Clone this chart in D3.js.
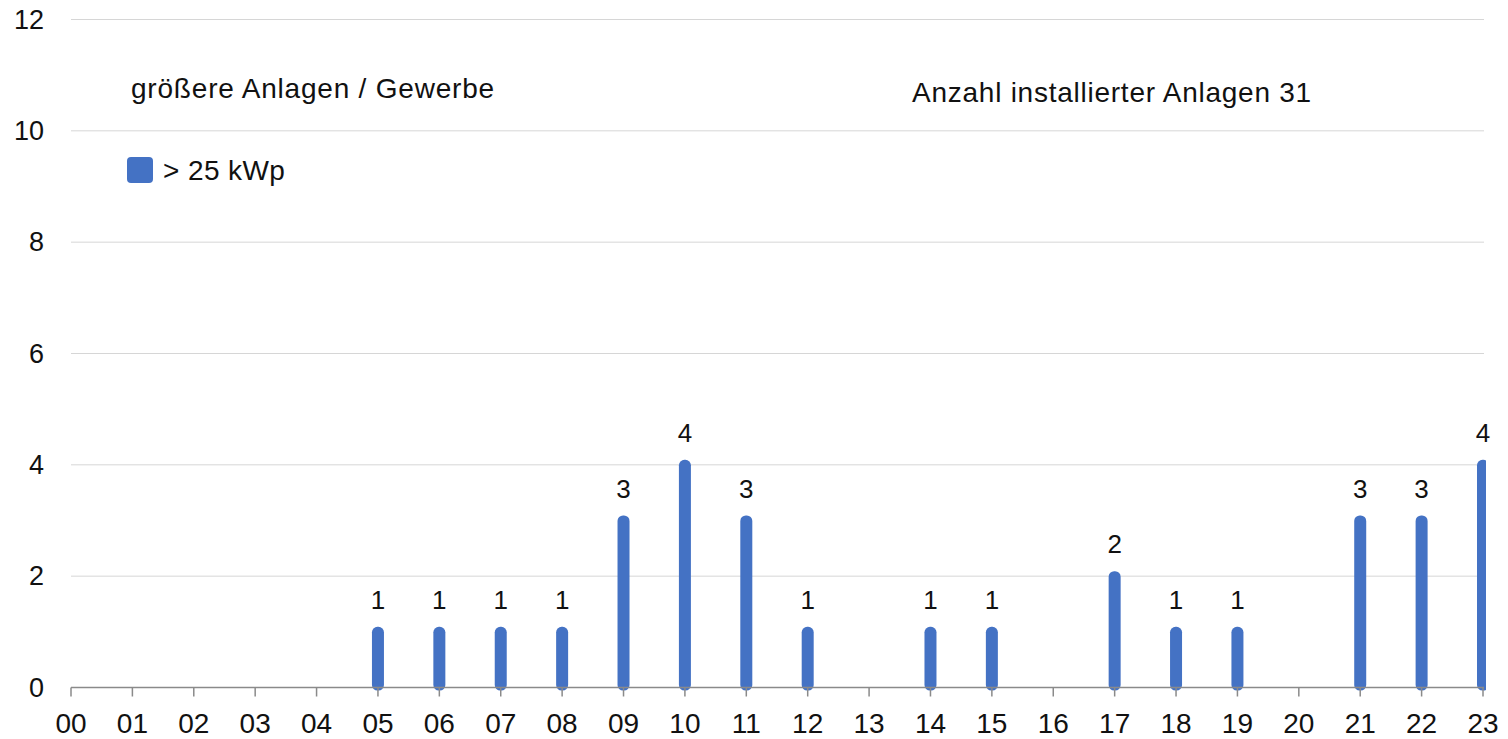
<!DOCTYPE html>
<html>
<head>
<meta charset="utf-8">
<script src="https://cdn.jsdelivr.net/npm/d3@7"></script>
<style>
  html, body { margin: 0; padding: 0; background: #fff; }
  svg { display: block; font-family: "Liberation Sans", Arial, Helvetica, sans-serif; }
</style>
</head>
<body>
<svg id="chart" width="1508" height="739"></svg>
<script>
// Installations per year (> 25 kWp)
const years = ["00","01","02","03","04","05","06","07","08","09","10","11",
               "12","13","14","15","16","17","18","19","20","21","22","23"];
const counts = [0,0,0,0,0,1,1,1,1,3,4,3,1,0,1,1,0,2,1,1,0,3,3,4];
const yTicks = [0, 2, 4, 6, 8, 10, 12];
const seriesName = "> 25 kWp";
const chartTitle = "größere Anlagen / Gewerbe";
const totalLabel = "Anzahl installierter Anlagen " + d3.sum(counts);

const W = 1508, H = 739;
const plotLeft = 71, plotRight = 1483, plotTop = 19.5, plotBottom = 687.5;
const barColor = "#4472C4";
const barW = 12;

const svg = d3.select("#chart");

const x = d3.scalePoint().domain(years).range([plotLeft, plotRight]).padding(0);
const y = d3.scaleLinear().domain([0, 12]).range([plotBottom, plotTop]);

// horizontal grid lines
svg.append("g")
  .selectAll("line")
  .data(yTicks.filter(t => t > 0))
  .join("line")
  .attr("x1", plotLeft).attr("x2", plotRight + 1)
  .attr("y1", d => y(d)).attr("y2", d => y(d))
  .attr("stroke", "#d6d6d6").attr("stroke-width", 1);

// y axis labels
svg.append("g")
  .selectAll("text")
  .data(yTicks)
  .join("text")
  .attr("x", 44).attr("y", d => y(d))
  .attr("text-anchor", "end").attr("dominant-baseline", "central")
  .attr("font-size", 27).attr("fill", "#111")
  .text(d => d);

// bars, clipped just past the last category
svg.append("defs").append("clipPath").attr("id", "plotClip")
  .append("rect").attr("x", 0).attr("y", 0).attr("width", plotRight + 3).attr("height", H);

const barData = years.map((k, i) => ({ k, v: counts[i] })).filter(d => d.v > 0);

const bars = svg.append("g").attr("clip-path", "url(#plotClip)");
bars.selectAll("rect")
  .data(barData)
  .join("rect")
  .attr("x", d => x(d.k) - barW / 2)
  .attr("width", barW)
  .attr("y", d => y(d.v) - 5)
  .attr("height", d => y(0) - y(d.v) + 8)
  .attr("rx", 5.5)
  .attr("fill", barColor);

// value labels
svg.append("g")
  .selectAll("text")
  .data(barData)
  .join("text")
  .attr("x", d => x(d.k)).attr("y", d => y(d.v) - 23)
  .attr("text-anchor", "middle")
  .attr("font-size", 26).attr("fill", "#111")
  .text(d => d.v);

// x axis
const xAxis = svg.append("g");
xAxis.append("line")
  .attr("x1", plotLeft).attr("x2", plotRight + 1)
  .attr("y1", y(0)).attr("y2", y(0))
  .attr("stroke", "#8a8a8a").attr("stroke-width", 1.5);
xAxis.selectAll("line.tick")
  .data(years)
  .join("line").attr("class", "tick")
  .attr("x1", d => x(d)).attr("x2", d => x(d))
  .attr("y1", y(0)).attr("y2", y(0) + 9)
  .attr("stroke", "#8a8a8a").attr("stroke-width", 1.5);
xAxis.selectAll("text")
  .data(years)
  .join("text")
  .attr("x", d => x(d)).attr("y", 733)
  .attr("text-anchor", "middle")
  .attr("font-size", 28).attr("fill", "#111")
  .text(d => d);

// titles
svg.append("text")
  .attr("x", 131).attr("y", 98)
  .attr("font-size", 28).attr("letter-spacing", "0.8px").attr("fill", "#111")
  .text(chartTitle);
svg.append("text")
  .attr("x", 912).attr("y", 102)
  .attr("font-size", 28).attr("letter-spacing", "0.75px").attr("fill", "#111")
  .text(totalLabel);

// legend
const legend = svg.append("g");
legend.append("rect")
  .attr("x", 127).attr("y", 157).attr("width", 26).attr("height", 26)
  .attr("rx", 4).attr("fill", barColor);
legend.append("text")
  .attr("x", 163).attr("y", 170)
  .attr("dominant-baseline", "central")
  .attr("font-size", 28).attr("letter-spacing", "0.4px").attr("fill", "#111")
  .text(seriesName);
</script>
</body>
</html>
